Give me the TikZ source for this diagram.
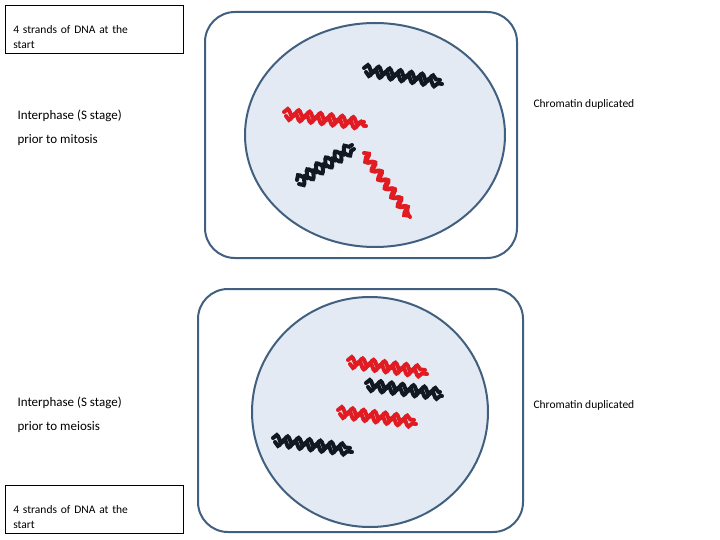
\documentclass[tikz,border=0pt]{standalone}
\usepackage{fontspec}
\setmainfont{Carlito}
\usetikzlibrary{decorations.pathmorphing}
\definecolor{cellblue}{HTML}{E3EAF4}
\definecolor{edge}{HTML}{41607F}
\definecolor{chred}{HTML}{E11B22}
\definecolor{chblack}{HTML}{111822}
\tikzset{
  cellbox/.style={draw=edge,line width=2pt,rounded corners=30pt},
  nucleus/.style={draw=edge,line width=2pt,fill=cellblue},
  txtbox/.style={draw,line width=0.6pt,align=left,anchor=north west,inner sep=0pt,text width=178pt,minimum height=48pt,text depth=0pt,font=\fontsize{11.5}{15}\selectfont},
  lbl/.style={align=left,anchor=west,font=\fontsize{13}{24}\selectfont},
  clbl/.style={anchor=west,font=\fontsize{11.5}{14}\selectfont},
  strand/.style={line width=4pt,line cap=round,decorate,decoration={snake,segment length=11pt,amplitude=3.5pt}},
  strandb/.style={strand,decoration={snake,segment length=11pt,amplitude=3.5pt,mirror}}
}
\newcommand{\chrom}[3]{% color, start, end
  \draw[strand,#1] (#2) -- (#3);
  \draw[strandb,#1] ([shift={(2,4)}]#2) -- ([shift={(2,4)}]#3);
}
\begin{document}
\begin{tikzpicture}[x=1pt,y=-1pt]
\useasboundingbox (0,0) rectangle (720,540);
\node[cellbox,minimum width=312pt,minimum height=246pt] (cell1) at (361,135) {};
\draw[nucleus] (375,135) ellipse [x radius=130, y radius=112];
\node[cellbox,minimum width=325pt,minimum height=243pt] (cell2) at (360.5,410.5) {};
\draw[nucleus] (370,412) ellipse [x radius=118, y radius=115];
\node[txtbox] (t1) at (5,5) {\hspace*{8pt}\parbox[t]{170pt}{4 strands of DNA at the\\start}};
\node[txtbox] (t2) at (5,485) {\hspace*{8pt}\parbox[t]{170pt}{4 strands of DNA at the\\start}};
\node[lbl] (l1) at (14,128) {Interphase (S stage)\\prior to mitosis};
\node[lbl] (l2) at (14,415) {Interphase (S stage)\\prior to meiosis};
\node[clbl] (c1) at (530,104) {Chromatin duplicated};
\node[clbl] (c2) at (530,405) {Chromatin duplicated};
\chrom{chblack}{364,68}{440,80}
\chrom{chred}{284,112}{364,122}
\chrom{chblack}{297,180}{352,145}
\chrom{chred}{364,153}{408,213}
\chrom{chred}{348,360}{425,370}
\chrom{chblack}{366,383}{440,392}
\chrom{chred}{338,410}{414,420}
\chrom{chblack}{273,438}{350,448}
\end{tikzpicture}
\end{document}
